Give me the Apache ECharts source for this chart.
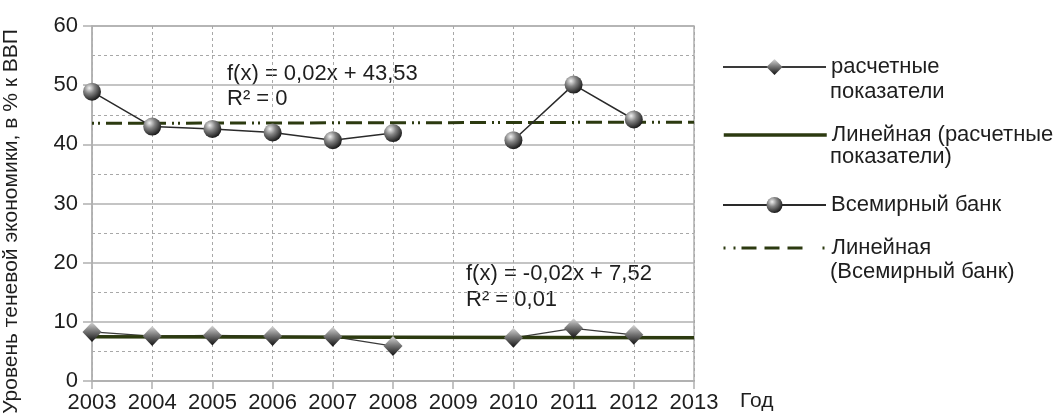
<!DOCTYPE html>
<html><head><meta charset="utf-8">
<script src="https://cdn.jsdelivr.net/npm/echarts@6/dist/echarts.min.js"></script>
<style>html,body{margin:0;padding:0;background:#fff}#c{width:1056px;height:419px}</style>
</head><body><div id="c"></div>
<script>
const years = ['2003','2004','2005','2006','2007','2008','2009','2010','2011','2012','2013'];
const calcValues = [8.3, 7.6, 7.7, 7.6, 7.5, 5.9, null, 7.3, 8.9, 7.8, null];
const wbValues = [48.9, 43.0, 42.6, 42.0, 40.7, 41.9, null, 40.7, 50.1, 44.2, null];
const calcTrendEnds = [7.50, 7.30];
const wbTrendEnds = [43.55, 43.75];
const yTicks = [0, 10, 20, 30, 40, 50, 60];

const FONT = '"Liberation Sans", Arial, sans-serif';
const TXT = '#1e1e1e';
function ends(e){ const a = years.map(()=>null); a[0]=e[0]; a[a.length-1]=e[1]; return a; }
const sphere = new echarts.graphic.RadialGradient(0.35, 0.3, 0.75, [
  {offset:0, color:'#f0f0f0'},{offset:0.4, color:'#858585'},{offset:1, color:'#121212'}]);
const diamond = new echarts.graphic.LinearGradient(0, 0, 0, 1, [
  {offset:0, color:'#d8d8d8'},{offset:0.45, color:'#7a7a7a'},{offset:1, color:'#101010'}]);
const trendGreen = '#2c3a10';
const dashDot = [2,4,2,6,16,6,16,6,16,6];

const chart = echarts.init(document.getElementById('c'));
const legendBase = {left:722, orient:'vertical', padding:0, itemWidth:103, itemHeight:20,
  textStyle:{fontFamily:FONT, fontSize:22, color:TXT, lineHeight:24}};
chart.setOption({
  animation:false,
  grid:{left:92, top:26, right:362, bottom:38, show:true, borderColor:'#b0b0b0', borderWidth:1.5, outerBoundsMode:'none', containLabel:false},
  xAxis:{type:'category', data:years, boundaryGap:false,
    name:'Год', nameLocation:'end', nameGap:46,
    nameTextStyle:{fontFamily:FONT, fontSize:21, color:TXT, verticalAlign:'top', padding:[10,0,0,0]},
    axisLine:{lineStyle:{color:'#b0b0b0', width:1.5}},
    axisTick:{show:true, length:8, lineStyle:{color:'#b0b0b0', width:1.5}},
    axisLabel:{fontFamily:FONT, fontSize:22, color:TXT, margin:11, interval:0},
    splitLine:{show:true, lineStyle:{color:'#a8a8a8', width:1, type:[3,3]}}},
  yAxis:{type:'value', min:yTicks[0], max:yTicks[yTicks.length-1], interval:10,
    name:'Уровень теневой экономики, в % к ВВП', nameLocation:'middle', nameGap:70,
    nameTextStyle:{fontFamily:FONT, fontSize:21, color:TXT, padding:[0,36,0,0]},
    axisLine:{show:true, lineStyle:{color:'#b0b0b0', width:1.5}},
    axisTick:{show:true, length:9, lineStyle:{color:'#b0b0b0', width:1.5}},
    axisLabel:{fontFamily:FONT, fontSize:22, color:TXT, margin:14},
    splitLine:{show:true, lineStyle:{color:'#b0b0b0', width:1.5}},
    minorTick:{show:false, splitNumber:2},
    minorSplitLine:{show:true, lineStyle:{color:'#a8a8a8', width:1, type:[3,3]}}},
  legend:[
    Object.assign({}, legendBase, {top:55, data:['расчетные показатели'], formatter:()=>'расчетные'}),
    Object.assign({}, legendBase, {top:123, data:['Линейная (расчетные показатели)'], formatter:()=>'Линейная (расчетные',
      itemStyle:{opacity:0}, lineStyle:{width:3.5, color:trendGreen}}),
    Object.assign({}, legendBase, {top:193, data:['Всемирный банк'], formatter:()=>'Всемирный банк'}),
    Object.assign({}, legendBase, {top:236, data:['Линейная (Всемирный банк)'], formatter:()=>'Линейная',
      itemStyle:{opacity:0}, lineStyle:{width:3, color:trendGreen, type:[2,8,2,6,15,8,15,8,15,20,2,100]}})
  ],
  graphic:[
    {type:'text', left:830, top:81, style:{text:'показатели', font:'22px '+FONT, fill:TXT}},
    {type:'text', left:830, top:146, style:{text:'показатели)', font:'22px '+FONT, fill:TXT}},
    {type:'text', left:830, top:261, style:{text:'(Всемирный банк)', font:'22px '+FONT, fill:TXT}},
    {type:'text', left:227, top:63, style:{text:'f(x) = 0,02x + 43,53', font:'22px '+FONT, fill:TXT}},
    {type:'text', left:227, top:88, style:{text:'R² = 0', font:'22px '+FONT, fill:TXT}},
    {type:'text', left:466, top:263, style:{text:'f(x) = -0,02x + 7,52', font:'22px '+FONT, fill:TXT}},
    {type:'text', left:466, top:289, style:{text:'R² = 0,01', font:'22px '+FONT, fill:TXT}}
  ],
  series:[
    {name:'расчетные показатели', type:'line', data:calcValues, connectNulls:false,
      symbol:'diamond', symbolSize:[19,20], showAllSymbol:true,
      lineStyle:{color:'#3a3a3a', width:1.2}, itemStyle:{color:diamond}},
    {name:'Всемирный банк', type:'line', data:wbValues, connectNulls:false,
      symbol:'circle', symbolSize:18, showAllSymbol:true,
      lineStyle:{color:'#2a2a2a', width:1.5}, itemStyle:{color:sphere}},
    {name:'Линейная (расчетные показатели)', type:'line', data:ends(calcTrendEnds), connectNulls:true,
      symbol:'none', lineStyle:{color:trendGreen, width:3.5}, itemStyle:{color:trendGreen}, z:3},
    {name:'Линейная (Всемирный банк)', type:'line', data:ends(wbTrendEnds), connectNulls:true,
      symbol:'none', lineStyle:{color:trendGreen, width:3, type:dashDot}, itemStyle:{color:trendGreen}, z:1}
  ]
});
</script></body></html>
